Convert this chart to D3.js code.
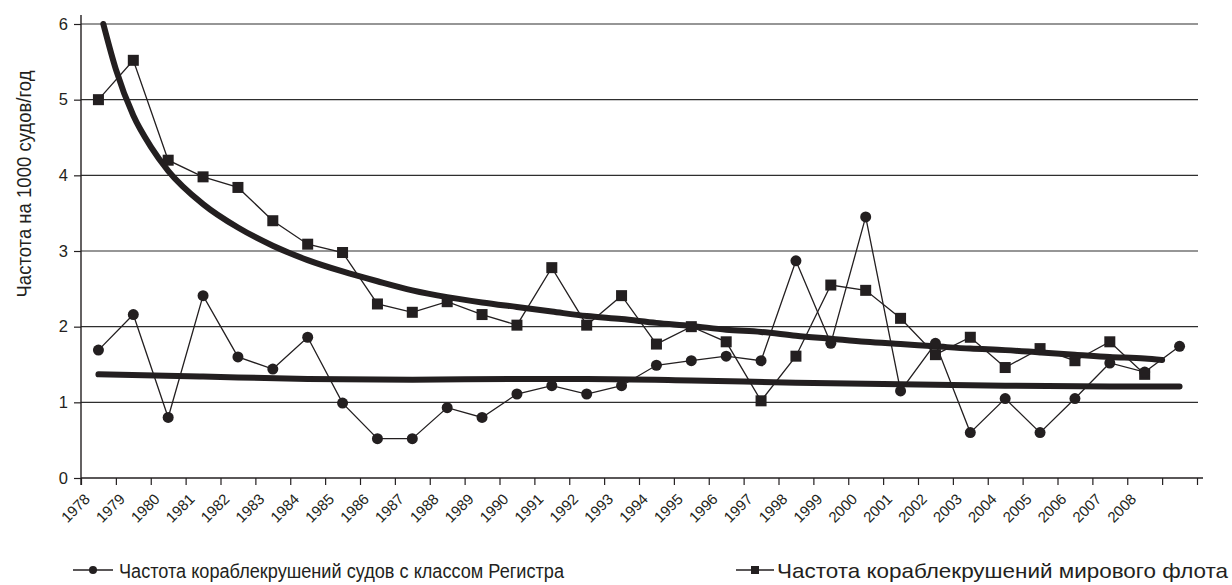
<!DOCTYPE html>
<html><head><meta charset="utf-8">
<script src="https://cdn.jsdelivr.net/npm/d3@7"></script>
<style>
body{margin:0;background:#fff}
svg{display:block}
text{font-family:"Liberation Sans",Arial,Helvetica,sans-serif;fill:#231f20}
</style>
</head><body>
<svg id="chart" width="1232" height="585"></svg>
<script>
// ---- data ----
const categories = ["1978","1979","1980","1981","1982","1983","1984","1985","1986","1987","1988","1989","1990","1991","1992","1993","1994","1995","1996","1997","1998","1999","2000","2001","2002","2003","2004","2005","2006","2007","2008",""];
const registerRate = [1.69,2.16,0.80,2.41,1.60,1.44,1.86,0.99,0.52,0.52,0.93,0.80,1.11,1.22,1.11,1.22,1.49,1.55,1.61,1.55,2.87,1.78,3.45,1.15,1.78,0.60,1.05,0.60,1.05,1.52,1.40,1.74];
const worldRate = [5.00,5.52,4.20,3.98,3.84,3.40,3.09,2.98,2.30,2.19,2.33,2.16,2.02,2.78,2.02,2.41,1.77,2.00,1.80,1.02,1.61,2.55,2.48,2.11,1.63,1.86,1.46,1.71,1.55,1.80,1.37];
// trend lines (position in category index units)
const worldTrendPos = [0.14,0.5,1,1.5,2,3,4,5,6,7,8,9,10,11,12,13,14,15,16,17,18,19,20,21,22,23,24,25,26,27,28,29,30,30.5];
const worldTrendVal = [6.00,5.40,4.79,4.38,4.06,3.62,3.31,3.07,2.88,2.73,2.60,2.48,2.39,2.32,2.26,2.20,2.14,2.10,2.05,2.01,1.96,1.93,1.88,1.84,1.80,1.77,1.74,1.71,1.69,1.66,1.63,1.60,1.58,1.56];
const registerTrendPos = [0,3,6,9,12,14,17,20,23,26,29,31];
const registerTrendVal = [1.37,1.34,1.31,1.30,1.31,1.31,1.29,1.26,1.24,1.22,1.21,1.21];
const yTicks = [0,1,2,3,4,5,6];
const yTitle = "Частота на 1000 судов/год";
const legendRegister = "Частота кораблекрушений судов с классом Регистра";
const legendWorld = "Частота кораблекрушений мирового флота";

// ---- drawing ----
const ink = "#231f20";
const svg = d3.select("#chart");
const x = d3.scaleLinear().domain([-0.5, categories.length - 0.5]).range([81, 1197]);
const y = d3.scaleLinear().domain([0, 6]).range([478, 24]);

// gridlines
svg.append("g").selectAll("line").data(yTicks.filter(v => v > 0)).join("line")
  .attr("x1", 81).attr("x2", 1198)
  .attr("y1", d => y(d)).attr("y2", d => y(d))
  .attr("stroke", "#2e2e2e").attr("stroke-width", 1.2);

// y axis
const gy = svg.append("g").attr("transform", "translate(81,0)")
  .call(d3.axisLeft(y).tickValues(yTicks).tickSize(7).tickPadding(6).tickFormat(d3.format("d")));
gy.attr("font-size", null).attr("font-family", null);
gy.select(".domain").remove();
gy.selectAll(".tick line").attr("stroke", ink).attr("stroke-width", 1.2);
gy.selectAll(".tick text").attr("font-size", 16.5).attr("fill", ink);
svg.append("line").attr("x1", 81).attr("x2", 81).attr("y1", 15).attr("y2", 485)
  .attr("stroke", ink).attr("stroke-width", 1.4);

// x axis (ticks at category boundaries)
const boundaries = d3.range(categories.length + 1).map(k => k - 0.5);
const gx = svg.append("g").attr("transform", "translate(0,478)")
  .call(d3.axisBottom(x).tickValues(boundaries).tickSize(7).tickFormat(""));
gx.select(".domain").remove();
gx.selectAll(".tick line").attr("stroke", ink).attr("stroke-width", 1.2);
svg.append("line").attr("x1", 81).attr("x2", 1203).attr("y1", 478).attr("y2", 478)
  .attr("stroke", ink).attr("stroke-width", 1.4);

svg.append("g").selectAll("text").data(categories.filter(c => c !== "")).join("text")
  .attr("transform", (d, i) => `translate(${x(i - 0.5) + 10},500) rotate(-45)`)
  .attr("text-anchor", "end").attr("font-size", 15).text(d => d);

// y title
svg.append("text").attr("transform", "translate(31,184) rotate(-90)")
  .attr("text-anchor", "middle").attr("font-size", 20)
  .attr("textLength", 227).attr("lengthAdjust", "spacingAndGlyphs")
  .text(yTitle);

// trend lines
const trendLine = d3.line().x(d => x(d[0])).y(d => y(d[1])).curve(d3.curveMonotoneX);
svg.append("path").datum(worldTrendPos.map((p, i) => [p, worldTrendVal[i]]))
  .attr("d", trendLine).attr("fill", "none").attr("stroke", ink)
  .attr("stroke-width", 6).attr("stroke-linecap", "round");
svg.append("path").datum(registerTrendPos.map((p, i) => [p, registerTrendVal[i]]))
  .attr("d", trendLine).attr("fill", "none").attr("stroke", ink)
  .attr("stroke-width", 6).attr("stroke-linecap", "round");

// series lines
const seriesLine = d3.line().x((d, i) => x(i)).y(d => y(d));
svg.append("path").datum(worldRate).attr("d", seriesLine)
  .attr("fill", "none").attr("stroke", ink).attr("stroke-width", 1.3);
svg.append("path").datum(registerRate).attr("d", seriesLine)
  .attr("fill", "none").attr("stroke", ink).attr("stroke-width", 1.3);

// markers
svg.append("g").selectAll("rect").data(worldRate).join("rect")
  .attr("x", (d, i) => x(i) - 5.5).attr("y", d => y(d) - 5.5)
  .attr("width", 11).attr("height", 11).attr("fill", ink);
svg.append("g").selectAll("circle").data(registerRate).join("circle")
  .attr("cx", (d, i) => x(i)).attr("cy", d => y(d)).attr("r", 5.5).attr("fill", ink);

// legend
const lg1 = svg.append("g");
lg1.append("line").attr("x1", 73).attr("x2", 113).attr("y1", 570).attr("y2", 570)
  .attr("stroke", ink).attr("stroke-width", 1.4);
lg1.append("circle").attr("cx", 93).attr("cy", 570).attr("r", 4).attr("fill", ink);
lg1.append("text").attr("x", 119).attr("y", 578).attr("font-size", 20)
  .attr("textLength", 445).attr("lengthAdjust", "spacingAndGlyphs").text(legendRegister);

const lg2 = svg.append("g");
lg2.append("line").attr("x1", 736).attr("x2", 774).attr("y1", 570).attr("y2", 570)
  .attr("stroke", ink).attr("stroke-width", 1.4);
lg2.append("rect").attr("x", 751).attr("y", 566).attr("width", 8).attr("height", 8).attr("fill", ink);
lg2.append("text").attr("x", 777).attr("y", 578).attr("font-size", 21)
  .attr("textLength", 451).attr("lengthAdjust", "spacingAndGlyphs").text(legendWorld);
</script>
</body></html>
